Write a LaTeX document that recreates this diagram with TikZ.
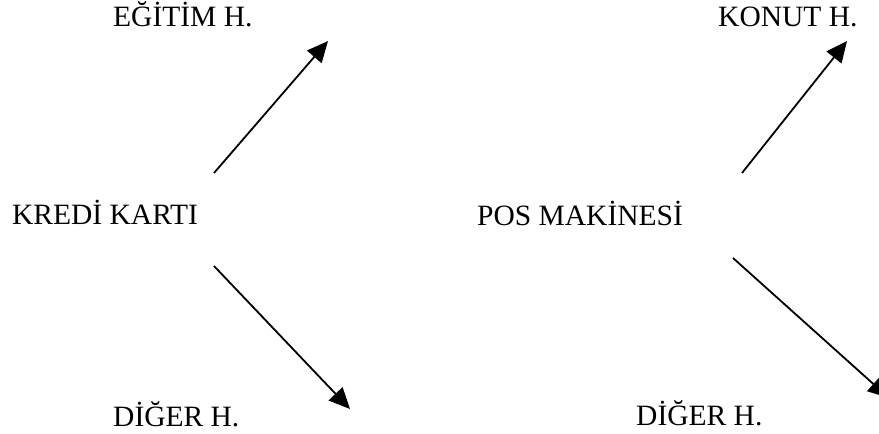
\documentclass[tikz,border=0pt]{standalone}
\usepackage{fontspec}
\setmainfont{Liberation Serif}
\usetikzlibrary{arrows.meta}
\begin{document}
\begin{tikzpicture}[x=1pt,y=-1pt,
  lbl/.style={anchor=base west,inner sep=0pt,font=\fontsize{29.5}{35}\selectfont},
  arr/.style={line width=1.8pt,-{Triangle[length=21pt,width=19pt]}}]
\useasboundingbox (0,0) rectangle (879,434);
\node[lbl] (egitim) at (113,26) {EĞİTİM H.};
\node[lbl] (konut) at (718,26) {KONUT H.};
\node[lbl] (kredi) at (12,224) {KREDİ KARTI};
\node[lbl] (pos) at (477,225) {POS MAKİNESİ};
\node[lbl] (diger1) at (113,426) {DİĞER H.};
\node[lbl] (diger2) at (636,425) {DİĞER H.};
\coordinate (a1s) at (214,173);
\coordinate (a1e) at (328,41);
\coordinate (a2s) at (214,266);
\coordinate (a2e) at (350,409);
\coordinate (a3s) at (742,173);
\coordinate (a3e) at (847,41);
\coordinate (a4s) at (733,258);
\coordinate (a4e) at (889,398);
\draw[arr] (a1s) -- (a1e);
\draw[arr] (a2s) -- (a2e);
\draw[arr] (a3s) -- (a3e);
\begin{scope}
\clip (0,0) rectangle (879,434);
\draw[arr] (a4s) -- (a4e);
\end{scope}
\end{tikzpicture}
\end{document}
